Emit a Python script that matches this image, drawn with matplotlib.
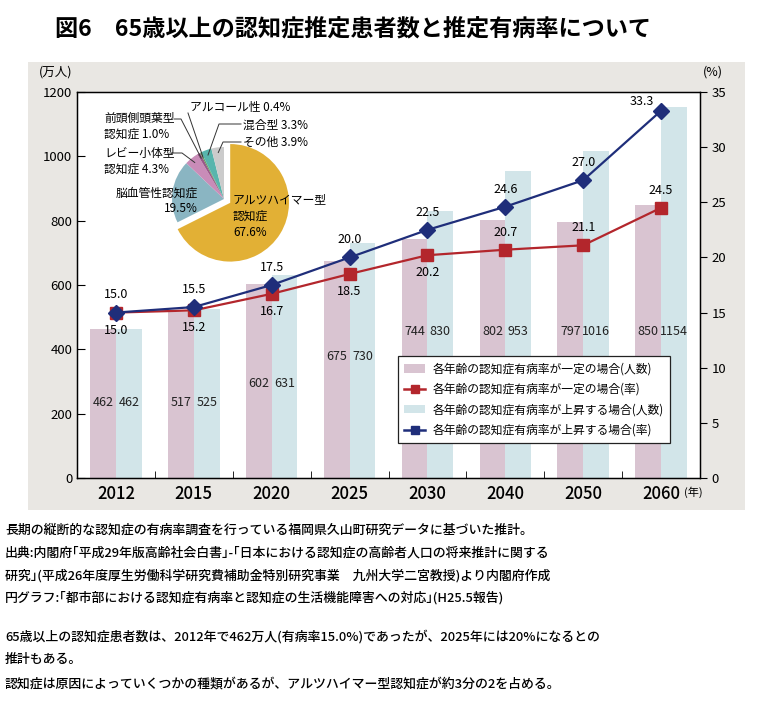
import numpy as np
import matplotlib.pyplot as plt
from matplotlib.patches import Rectangle, Patch
from matplotlib.lines import Line2D

plt.rcParams['font.family'] = ['Noto Sans CJK JP', 'DejaVu Sans']

# データ
years = ['2012', '2015', '2020', '2025', '2030', '2040', '2050', '2060']
count_const = [462, 517, 602, 675, 744, 802, 797, 850]      # 有病率一定 (万人)
count_rise = [462, 525, 631, 730, 830, 953, 1016, 1154]     # 有病率上昇 (万人)
rate_const = [15.0, 15.2, 16.7, 18.5, 20.2, 20.7, 21.1, 24.5]
rate_rise = [15.0, 15.5, 17.5, 20.0, 22.5, 24.6, 27.0, 33.3]

pie_labels = ['アルツハイマー型\n認知症\n67.6%', '脳血管性認知症\n19.5%', 'レビー小体型\n認知症 4.3%',
              '前頭側頭葉型\n認知症 1.0%', 'アルコール性 0.4%', '混合型 3.3%', 'その他 3.9%']
pie_values = [67.6, 19.5, 4.3, 1.0, 0.4, 3.3, 3.9]

legend_labels = ['各年齢の認知症有病率が一定の場合(人数)', '各年齢の認知症有病率が一定の場合(率)',
                 '各年齢の認知症有病率が上昇する場合(人数)', '各年齢の認知症有病率が上昇する場合(率)']

# 色
c_pink = '#d9c4d1'
c_lblue = '#d2e5e9'
c_red = '#b3262c'
c_navy = '#1f2e7a'
pie_colors = ['#e2b035', '#8ab5c2', '#c98cb8', '#9b5a8a', '#5a9a50', '#58b5ad', '#cbcbcb']

W, H = 760, 706
fig = plt.figure(figsize=(W / 100, H / 100), dpi=100)

# 背景パネル
fig.patches.append(Rectangle((28 / W, 1 - 510 / H), 717 / W, 448 / H, transform=fig.transFigure,
                             facecolor='#e9e7e3', edgecolor='none', zorder=-10))

fig.text(55 / W, 1 - 30 / H, '図6　65歳以上の認知症推定患者数と推定有病率について',
         fontsize=16.7, fontweight='bold', va='center', ha='left')

ax = fig.add_axes([77 / W, 1 - 478 / H, 623 / W, 386 / H])
ax.set_facecolor('white')
x = np.arange(len(years))
bw = 0.33
ax.bar(x - bw / 2, count_const, bw, color=c_pink, zorder=2)
ax.bar(x + bw / 2, count_rise, bw, color=c_lblue, zorder=2)

label_y = [236, 236, 295, 379, 454, 454, 454, 454]
for i in range(len(years)):
    ax.text(x[i] - bw / 2, label_y[i], str(count_const[i]), ha='center', va='center', fontsize=9, color='#222222', zorder=3)
    ax.text(x[i] + bw / 2, label_y[i], str(count_rise[i]), ha='center', va='center', fontsize=9, color='#222222', zorder=3)

ax.set_xlim(-0.5, len(years) - 0.5)
ax.set_ylim(0, 1200)
ax.set_yticks(range(0, 1201, 200))
ax.set_xticks(x)
ax.set_xticklabels(years, fontsize=12, fontweight='medium')
ax.set_xticks(x[:-1] + 0.5, minor=True)
ax.tick_params(axis='x', which='major', length=0, pad=5)
ax.tick_params(axis='x', which='minor', length=5, direction='in')
ax.tick_params(axis='y', length=6, direction='in', labelsize=9.5)
for s in ax.spines.values():
    s.set_linewidth(1.0)
ax.text(-0.035, 1.035, '(万人)', transform=ax.transAxes, fontsize=9, ha='center', va='bottom')
ax.text(7.29, -45, '(年)', fontsize=8, ha='left', va='center', clip_on=False)

ax2 = ax.twinx()
ax2.set_ylim(0, 35)
ax2.set_yticks(range(0, 36, 5))
ax2.tick_params(axis='y', length=5, direction='out', labelsize=9.5)
ax2.text(1.021, 1.035, '(%)', transform=ax2.transAxes, fontsize=9, ha='center', va='bottom')

ax2.plot(x, rate_const, color=c_red, lw=1.6, marker='s', ms=9, zorder=4)
ax2.plot(x, rate_rise, color=c_navy, lw=1.6, marker='D', ms=8.5, zorder=5)

for i in range(len(years)):
    off = (-14, 2) if i == len(years) - 1 else (0, 8)
    ax2.annotate(f'{rate_rise[i]:.1f}', (x[i], rate_rise[i]), xytext=off, textcoords='offset points',
                 ha='center', va='bottom', fontsize=9, zorder=6)
    if i >= 5:
        ax2.annotate(f'{rate_const[i]:.1f}', (x[i], rate_const[i]), xytext=(0, 8), textcoords='offset points',
                     ha='center', va='bottom', fontsize=9, zorder=6)
    else:
        ax2.annotate(f'{rate_const[i]:.1f}', (x[i], rate_const[i]), xytext=(0, -8), textcoords='offset points',
                     ha='center', va='top', fontsize=9, zorder=6)

handles = [Patch(facecolor=c_pink, edgecolor='none'),
           Line2D([], [], color=c_red, lw=1.8, marker='s', ms=6),
           Patch(facecolor=c_lblue, edgecolor='none'),
           Line2D([], [], color=c_navy, lw=1.8, marker='s', ms=6)]
leg = ax2.legend(handles, legend_labels, loc='lower left', bbox_to_anchor=(0.505, 0.075), fontsize=8.5,
                 frameon=True, fancybox=False, edgecolor='#222222', framealpha=1, labelspacing=0.62,
                 handlelength=1.8, handletextpad=0.6, borderpad=0.55)
leg.get_frame().set_linewidth(0.9)
leg.set_zorder(10)

# 円グラフ
cx, cy, r = 224, 199, 52
half = 110
pax = fig.add_axes([(cx - half) / W, 1 - (cy + half) / H, 2 * half / W, 2 * half / H])
wedges, _ = pax.pie(pie_values, colors=pie_colors, startangle=90, counterclock=False,
                    explode=[0.14, 0, 0, 0, 0, 0, 0], radius=1.0)
wedges[0].set_radius(1.13)
lim = half / r
pax.set_xlim(-lim, lim)
pax.set_ylim(-lim, lim)
pax.set_aspect('equal')
pax.axis('off')


def pc(px, py):
    return ((px - cx) / r, (cy - py) / r)


fs = 8.5
pax.text(*pc(233, 216), pie_labels[0], ha='left', va='center', fontsize=fs, linespacing=1.35)
pax.text(*pc(198, 201), pie_labels[1], ha='right', va='center', fontsize=fs, multialignment='right', linespacing=1.3)
pax.text(*pc(104, 161), pie_labels[2], ha='left', va='center', fontsize=fs, linespacing=1.3)
pax.text(*pc(104, 126), pie_labels[3], ha='left', va='center', fontsize=fs, linespacing=1.3)
pax.text(*pc(190, 107), pie_labels[4], ha='left', va='center', fontsize=fs)
pax.text(*pc(243, 125), pie_labels[5], ha='left', va='center', fontsize=fs)
pax.text(*pc(243, 142), pie_labels[6], ha='left', va='center', fontsize=fs)

# 引き出し線
leaders = [(2, [(170, 153), (182, 153)]), (3, [(174, 119), (181, 119)]), (4, [(188, 113)]),
           (5, [(241, 124), (219, 124)]), (6, [(241, 142), (223, 142)])]
for idx, pts in leaders:
    w = wedges[idx]
    a = np.deg2rad((w.theta1 + w.theta2) / 2)
    tip = (0.9 * np.cos(a), 0.9 * np.sin(a))
    xs = [pc(*p)[0] for p in pts] + [tip[0]]
    ys = [pc(*p)[1] for p in pts] + [tip[1]]
    pax.plot(xs, ys, color='#333333', lw=0.7, clip_on=False)

# 注記
notes = ['長期の縦断的な認知症の有病率調査を行っている福岡県久山町研究データに基づいた推計。',
         '出典:内閣府｢平成29年版高齢社会白書｣-｢日本における認知症の高齢者人口の将来推計に関する',
         '研究｣(平成26年度厚生労働科学研究費補助金特別研究事業　九州大学二宮教授)より内閣府作成',
         '円グラフ:｢都市部における認知症有病率と認知症の生活機能障害への対応｣(H25.5報告)',
         '65歳以上の認知症患者数は、2012年で462万人(有病率15.0%)であったが、2025年には20%になるとの',
         '推計もある。',
         '認知症は原因によっていくつかの種類があるが、アルツハイマー型認知症が約3分の2を占める。']
note_y = [530, 553, 576, 598, 637, 660, 684]
for t, yy in zip(notes, note_y):
    fig.text(5 / W, 1 - yy / H, t, fontsize=9.3, fontweight='medium', va='center', ha='left')

fig.savefig('out.png', dpi=100)
